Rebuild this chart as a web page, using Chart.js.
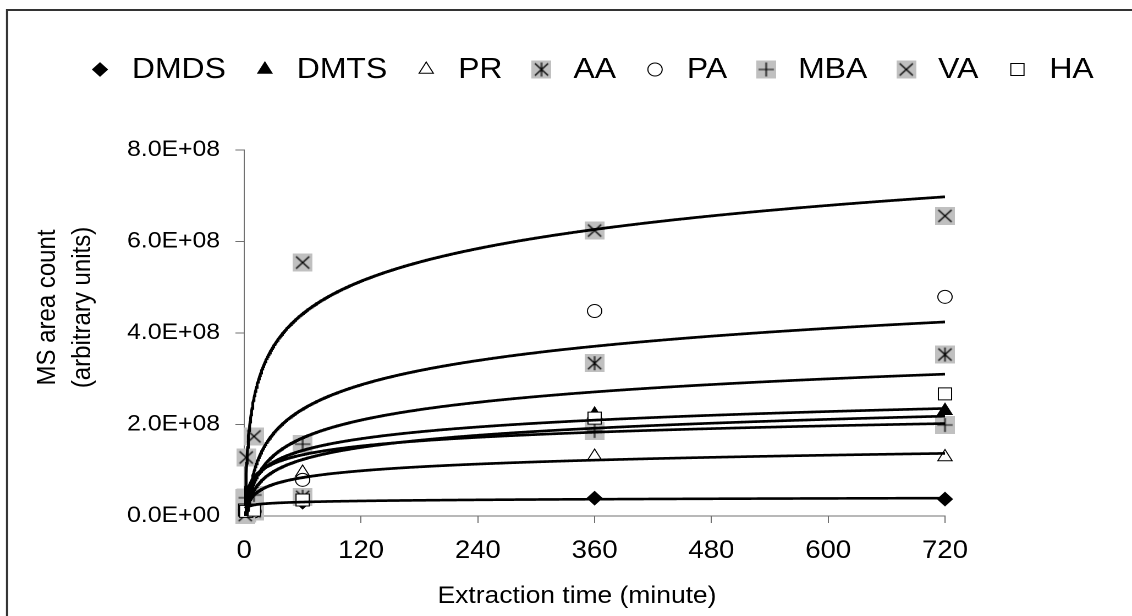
<!DOCTYPE html>
<html>
<head>
<meta charset="utf-8">
<script src="https://cdn.jsdelivr.net/npm/chart.js@4.4.1/dist/chart.umd.min.js"></script>
<style>
  html, body { margin: 0; padding: 0; background: #fff; overflow: hidden; }
  /* o gráfico original é levemente esticado na horizontal */
  #wrap { position: absolute; left: 0; top: 0; width: 1029px; height: 616px;
          transform: scaleX(1.1001); transform-origin: 0 0; }
</style>
</head>
<body>
<div id="wrap"><canvas id="grafico"></canvas></div>
<script>
// Tempos de extração (minutos)
const tempos = [1, 2, 10, 60, 360, 720];

// Compostos, na ordem da legenda
const compostos = ['DMDS', 'DMTS', 'PR', 'AA', 'PA', 'MBA', 'VA', 'HA'];

// Área MS (unidades arbitrárias) de cada composto
const dmds = [0.15e8, 0.20e8, 0.25e8, 0.30e8, 0.39e8, 0.37e8];
const dmts = [0.10e8, 0.15e8, 0.50e8, 1.50e8, 2.22e8, 2.30e8];
const pr   = [0.05e8, 0.10e8, 0.30e8, 0.95e8, 1.30e8, 1.29e8];
const aa   = [0.02e8, 0.05e8, 0.10e8, 0.42e8, 3.34e8, 3.53e8];
const pa   = [0.01e8, 0.02e8, 0.10e8, 0.79e8, 4.48e8, 4.79e8];
const mba  = [0.39e8, 0.40e8, 0.46e8, 1.57e8, 1.86e8, 1.99e8];
const va   = [0.02e8, 1.28e8, 1.74e8, 5.54e8, 6.24e8, 6.56e8];
const ha   = [0.13e8, 0.10e8, 0.13e8, 0.35e8, 2.14e8, 2.67e8];

// Marcas dos eixos
const xTicks = [0, 120, 240, 360, 480, 600, 720];
const yTicks = [0, 2e8, 4e8, 6e8, 8e8];

const valores = [dmds, dmts, pr, aa, pa, mba, va, ha];
const fonte = "'Liberation Sans', Arial, sans-serif";

// Função para desenhar os marcadores de caixa cinza (AA, MBA, VA)
function caixaCinza(simbolo) {
    const c = document.createElement('canvas');
    c.width = 18;
    c.height = 18;
    const g = c.getContext('2d');
    g.fillStyle = '#c0c0c0';
    g.fillRect(0, 0, 18, 18);
    g.strokeStyle = '#000';
    g.lineWidth = 1.2;
    g.beginPath();
    if (simbolo === 'xis' || simbolo === 'asterisco') {
        g.moveTo(3, 3); g.lineTo(15, 15);
        g.moveTo(15, 3); g.lineTo(3, 15);
    }
    if (simbolo === 'asterisco' || simbolo === 'mais') {
        g.moveTo(9, 2); g.lineTo(9, 16);
    }
    if (simbolo === 'mais') {
        g.moveTo(2, 9); g.lineTo(16, 9);
    }
    g.stroke();
    return c;
}

const estilos = {
    DMDS: { pointStyle: 'rectRot', radius: 6.7, backgroundColor: '#000', borderColor: '#000', borderWidth: 1 },
    DMTS: { pointStyle: 'triangle', radius: 7.5, backgroundColor: '#000', borderColor: '#000', borderWidth: 1 },
    PR:   { pointStyle: 'triangle', radius: 7.5, backgroundColor: '#fff', borderColor: '#000', borderWidth: 1 },
    AA:   { pointStyle: caixaCinza('asterisco'), radius: 9, backgroundColor: '#c0c0c0', borderColor: '#000', borderWidth: 0 },
    PA:   { pointStyle: 'circle', radius: 6.5, backgroundColor: '#fff', borderColor: '#000', borderWidth: 1 },
    MBA:  { pointStyle: caixaCinza('mais'), radius: 9, backgroundColor: '#c0c0c0', borderColor: '#000', borderWidth: 0 },
    VA:   { pointStyle: caixaCinza('xis'), radius: 9, backgroundColor: '#c0c0c0', borderColor: '#000', borderWidth: 0 },
    HA:   { pointStyle: 'rect', radius: 8.5, backgroundColor: '#fff', borderColor: '#000', borderWidth: 1 }
};

// Ajuste logarítmico (mínimos quadrados em ln x), como a linha de tendência do Excel
function ajusteLog(xs, ys) {
    const lx = xs.map(Math.log);
    const n = xs.length;
    const mx = lx.reduce((s, v) => s + v, 0) / n;
    const my = ys.reduce((s, v) => s + v, 0) / n;
    let sxy = 0, sxx = 0;
    lx.forEach((v, i) => {
        sxy += (v - mx) * (ys[i] - my);
        sxx += (v - mx) * (v - mx);
    });
    const a = sxy / sxx;
    return { a: a, b: my - a * mx };
}

function linhaTendencia(xs, ys) {
    const { a, b } = ajusteLog(xs, ys);
    const pts = [];
    const fim = Math.max(...xs);
    for (let t = Math.min(...xs); t <= fim; t += 0.5) {
        pts.push({ x: t, y: a * Math.log(t) + b });
    }
    return pts;
}

// Formato 8.0E+08
function formatoCientifico(v) {
    if (v === 0) return '0.0E+00';
    const exp = Math.floor(Math.log10(v));
    const m = v / Math.pow(10, exp);
    return m.toFixed(1) + 'E+' + String(exp).padStart(2, '0');
}

// Pontos medidos
const datasetsPontos = compostos.map((nome, i) => ({
    label: nome,
    data: tempos.map((t, j) => ({ x: t, y: valores[i][j] })),
    showLine: false,
    clip: false,
    order: 20 - i,
    pointStyle: estilos[nome].pointStyle,
    pointRadius: estilos[nome].radius,
    pointBackgroundColor: estilos[nome].backgroundColor,
    pointBorderColor: estilos[nome].borderColor,
    pointBorderWidth: estilos[nome].borderWidth
}));

// Linhas de tendência por cima dos pontos
const datasetsTendencia = compostos.map((nome, i) => ({
    label: nome + ' tendência',
    data: linhaTendencia(tempos, valores[i]),
    showLine: true,
    order: 0,
    pointRadius: 0,
    borderColor: '#000',
    borderWidth: 2.6,
    tension: 0,
    fill: false
}));

// Legenda, títulos dos eixos e moldura
const decoracao = {
    id: 'decoracao',
    beforeDraw(chart) {
        const ctx = chart.ctx;
        ctx.save();
        ctx.strokeStyle = '#333';
        ctx.lineWidth = 2;
        ctx.beginPath();
        ctx.moveTo(6.4, 616);
        ctx.lineTo(6.4, 10);
        ctx.lineTo(1029, 10);
        ctx.stroke();
        ctx.restore();
    },
    afterDraw(chart) {
        const ctx = chart.ctx;
        ctx.save();

        // legenda
        ctx.font = '29px ' + fonte;
        ctx.textAlign = 'left';
        ctx.textBaseline = 'alphabetic';
        let x = 90.9;
        compostos.forEach(nome => {
            const e = estilos[nome];
            ctx.fillStyle = e.backgroundColor;
            ctx.strokeStyle = e.borderColor;
            ctx.lineWidth = e.borderWidth;
            Chart.helpers.drawPoint(ctx, {
                pointStyle: e.pointStyle, radius: e.radius, rotation: 0, borderWidth: e.borderWidth
            }, x, 69.5);
            ctx.fillStyle = '#000';
            const xt = x + 29;
            ctx.fillText(nome, xt, 78);
            x = xt + ctx.measureText(nome).width + 35.5;
        });

        // título do eixo x
        ctx.font = '24px ' + fonte;
        ctx.textAlign = 'center';
        ctx.fillText('Extraction time (minute)', 524.5, 603);

        // título do eixo y, duas linhas
        [['MS area count', 50], ['(arbitrary units)', 82]].forEach(([texto, xb]) => {
            ctx.save();
            ctx.translate(xb, 307.5);
            ctx.rotate(-Math.PI / 2);
            ctx.fillText(texto, 0, 0);
            ctx.restore();
        });
        ctx.restore();
    }
};

const corEixo = '#707070';

const ctx = document.getElementById('grafico').getContext('2d');
new Chart(ctx, {
    type: 'scatter',
    data: { datasets: datasetsTendencia.concat(datasetsPontos) },
    options: {
        responsive: true,
        maintainAspectRatio: false,
        devicePixelRatio: 2,
        animation: false,
        layout: { padding: { top: 150, right: 170, bottom: 0, left: 0 } },
        scales: {
            x: {
                type: 'linear',
                min: 0,
                max: 720,
                afterBuildTicks: s => { s.ticks = xTicks.map(v => ({ value: v })); },
                afterFit: s => { s.height = 100; },
                grid: { drawOnChartArea: false, drawTicks: true, tickLength: 7, tickColor: corEixo },
                border: { display: true, color: corEixo, width: 1 },
                ticks: {
                    color: '#000',
                    font: { family: fonte, size: 25 },
                    padding: 13,
                    maxRotation: 0,
                    autoSkip: false
                }
            },
            y: {
                type: 'linear',
                min: 0,
                max: 8e8,
                afterBuildTicks: s => { s.ticks = yTicks.map(v => ({ value: v })); },
                afterFit: s => { s.width = 222; },
                grid: { drawOnChartArea: false, drawTicks: true, tickLength: 8, tickColor: corEixo },
                border: { display: true, color: corEixo, width: 1 },
                ticks: {
                    color: '#000',
                    font: { family: fonte, size: 22.5 },
                    padding: 14,
                    autoSkip: false,
                    callback: formatoCientifico
                }
            }
        },
        plugins: {
            legend: { display: false },
            tooltip: { enabled: false }
        }
    },
    plugins: [decoracao]
});
</script>
</body>
</html>
